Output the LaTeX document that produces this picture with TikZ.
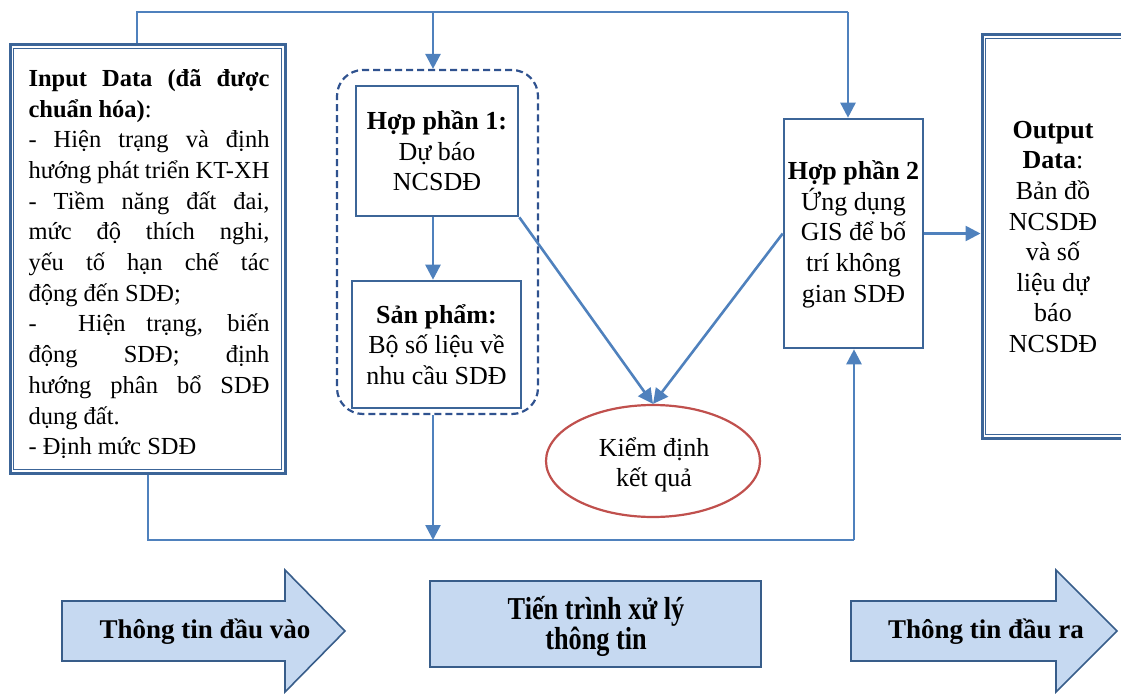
\documentclass[tikz,border=0pt]{standalone}
\usepackage{fontspec}
\setmainfont{Liberation Serif}
\usetikzlibrary{arrows.meta,shapes.geometric}
\definecolor{conn}{HTML}{4F81BD}
\definecolor{bord}{HTML}{3C6598}
\definecolor{dashc}{HTML}{2F528F}
\definecolor{redc}{HTML}{C0504D}
\definecolor{lblue}{HTML}{C6D9F1}
\definecolor{sbord}{HTML}{385D8A}
\tikzset{
  conn/.style={draw=conn, line width=2.6pt},
  arr/.style={conn, -{Triangle[length=15pt,width=15pt]}},
  boxn/.style={draw=bord, line width=2.6pt, rectangle, inner sep=0pt, align=center, font=\fontsize{26}{30.6}\selectfont},
  dblout/.style={draw=bord, line width=3pt, rectangle, inner sep=0pt},
  dblin/.style={draw=bord, line width=1.6pt},
  shapec/.style={fill=lblue, draw=sbord, line width=1.6pt},
  lbl/.style={font=\fontsize{27}{30}\selectfont\bfseries, align=center}
}
\begin{document}
\begin{tikzpicture}[x=1pt,y=-1pt]
\useasboundingbox (0,0) rectangle (1121,693);
\clip (0,0) rectangle (1121,693);
% input box
\node[dblout, minimum width=275pt, minimum height=428pt] (in) at (147.5,259) {};
\draw[dblin] ([shift={(5pt,-5pt)}]in.north west) rectangle ([shift={(-5pt,5pt)}]in.south east);
\node (intext) at (149,264) {\parbox{241pt}{\fontsize{24.5}{30.7}\selectfont
\makebox[\linewidth][s]{\textbf{Input Data (đã được}}\\
\textbf{chuẩn hóa)}:\\
\makebox[\linewidth][s]{- Hiện trạng và định}\\
\makebox[\linewidth][s]{hướng phát triển KT-XH}\\
\makebox[\linewidth][s]{- Tiềm năng đất đai,}\\
\makebox[\linewidth][s]{mức độ thích nghi,}\\
\makebox[\linewidth][s]{yếu tố hạn chế tác}\\
động đến SDĐ;\\
\makebox[\linewidth][s]{- \ Hiện trạng, biến}\\
\makebox[\linewidth][s]{động SDĐ; định}\\
\makebox[\linewidth][s]{hướng phân bổ SDĐ}\\
dụng đất.\\
- Định mức SDĐ}};
% output box
\node[dblout, minimum width=144pt, minimum height=403pt] (out) at (1054,236.5) {};
\draw[dblin] ([shift={(5pt,-5pt)}]out.north west) rectangle ([shift={(-5pt,5pt)}]out.south east);
\node[align=center, font=\fontsize{26}{30.6}\selectfont] (outtext) at (1053,237) {\textbf{Output}\\\textbf{Data}:\\Bản đồ\\NCSDĐ\\và số\\liệu dự\\báo\\NCSDĐ};
% dashed group
\node[draw=dashc, line width=2.2pt, dash pattern=on 7pt off 4pt, rounded corners=26pt, minimum width=201pt, minimum height=344pt, inner sep=0pt] (dash) at (437.5,242) {};
% boxes
\node[boxn, minimum width=162pt, minimum height=130pt] (hp1) at (437,151) {\textbf{Hợp phần 1:}\\Dự báo\\NCSDĐ};
\node[boxn, minimum width=169pt, minimum height=127pt] (sp) at (436.5,344.5) {\textbf{Sản phẩm:}\\Bộ số liệu về\\nhu cầu SDĐ};
\node[boxn, minimum width=139pt, minimum height=229pt, text depth=4pt] (hp2) at (853.5,233.5) {\textbf{Hợp phần 2}\\Ứng dụng\\GIS để bố\\trí không\\gian SDĐ};
\node[ellipse, draw=redc, line width=2.2pt, fill=white, minimum width=214pt, minimum height=112pt, inner sep=0pt] (kd) at (653,461) {};
\node[align=center, font=\fontsize{26}{29.5}\selectfont] (kdt) at (654,465) {Kiểm định\\kết quả};
% coordinates
\coordinate (tl) at (137,12);
\coordinate (tm) at (433,12);
\coordinate (tr) at (848,12);
\coordinate (bl) at (148,540);
\coordinate (br) at (854,540);
% connectors
\draw[conn] (in.north -| tl) -- (tl) -- (tr);
\draw[arr] (tm) -- (dash.north -| tm);
\draw[arr] (tr) -- (hp2.north -| tr);
\draw[arr] (hp1.south -| tm) -- (sp.north -| tm);
\draw[arr] (hp1.south east) -- (kd.north);
\draw[arr] (hp2.west) -- (kd.north);
\draw[arr] (hp2.east) -- (hp2.east -| out.west);
\draw[conn] (in.south -| bl) -- (bl) -- (br);
\draw[arr] (br) -- (hp2.south -| br);
\draw[arr] (dash.south -| tm) -- (tm |- bl);
% bottom shapes
\draw[shapec] (62,601) -- (285,601) -- (285,570) -- (345,631) -- (285,692) -- (285,661) -- (62,661) -- cycle;
\node[lbl] (l1) at (205,632) {Thông tin đầu vào};
\node[shapec, minimum width=331pt, minimum height=86pt, inner sep=0pt] (l2) at (595.5,624) {};
\node (l2t) at (596,627) {\scalebox{1.03}[1.25]{\fontsize{25.5}{21.5}\selectfont\bfseries\begin{tabular}{@{}c@{}}Tiến trình xử lý\\thông tin\end{tabular}}};
\draw[shapec] (851,601) -- (1056,601) -- (1056,570) -- (1117,631) -- (1056,692) -- (1056,661) -- (851,661) -- cycle;
\node[lbl] (l3) at (986,632) {Thông tin đầu ra};
\end{tikzpicture}
\end{document}
